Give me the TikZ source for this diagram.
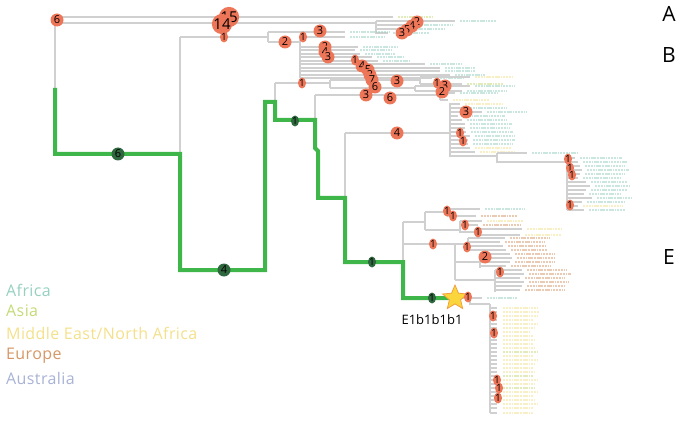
\documentclass[tikz,border=0pt]{standalone}
\usepackage{fontspec}
\setmainfont{Open Sans}
\newfontfamily\legendfont{Open Sans}[LetterSpace=2.5]
\usetikzlibrary{shapes.geometric,positioning}
\definecolor{treegrey}{RGB}{208,208,208}
\definecolor{lineagegreen}{RGB}{62,182,74}
\definecolor{mutred}{RGB}{238,118,88}
\definecolor{mutgreen}{RGB}{47,104,62}
\definecolor{africa}{RGB}{150,208,192}
\definecolor{asia}{RGB}{196,218,118}
\definecolor{mena}{RGB}{244,224,138}
\definecolor{europe}{RGB}{214,150,102}
\definecolor{australia}{RGB}{168,178,214}
\definecolor{staryellow}{RGB}{250,214,60}
\definecolor{starorange}{RGB}{242,160,62}
\tikzset{
  branch/.style={draw=treegrey,line width=2.6pt},
  lineage/.style={draw=lineagegreen,line width=4pt},
  tiplab/.style={line width=1.4pt,dash pattern=on 2.4pt off 0.8pt on 1.6pt off 0.8pt,draw opacity=0.5},
  mut/.style={circle,fill=mutred,inner sep=0pt,minimum size=13pt,text=black,font=\fontsize{11}{11}\selectfont},
  bigmut/.style={mut,minimum size=20pt,font=\fontsize{15}{15}\selectfont},
  onemut/.style={ellipse,fill=mutred,inner sep=0pt,minimum width=7pt,minimum height=11pt,text=black,font=\fontsize{10}{10}\selectfont},
  gmut/.style={circle,fill=mutgreen,inner sep=0pt,minimum size=13pt,text=black,font=\fontsize{11}{11}\selectfont},
  gone/.style={onemut,fill=mutgreen},
  legend/.style={anchor=west,inner sep=0pt,font=\legendfont\fontsize{16}{16}\selectfont},
  cladelab/.style={inner sep=0pt,font=\fontsize{21}{21}\selectfont}
}

\begin{document}
\begin{tikzpicture}[x=1pt,y=-1pt]
  \useasboundingbox (0,0) rectangle (685,422);
  % nodes on the lineage
  \coordinate (root) at (55,20);
  \coordinate (lin0) at (55,88);
  \coordinate (n180) at (180,154);
  \coordinate (n265) at (265,270);
  \coordinate (n275) at (275,102);
  \coordinate (n315) at (315,120);
  \coordinate (n318) at (318,198);
  \coordinate (n345) at (345,262);
  \coordinate (n403) at (403,298);
  \coordinate (starpos) at (455,298);

  % grey backbone
  \draw[branch] (root) -- (lin0);
  \draw[branch] (55,17) -- (393,17);
  \draw[branch] (55,23) -- (376,23);
  \draw[branch] (376,21) -- (376,34);
  \draw[branch] (180,37) -- (n180);
  \draw[branch] (180,37) -- (268,37);
  \draw[branch] (268,32) -- (268,42);
  \draw[branch] (268,42) -- (300,42);
  \draw[branch] (300,37) -- (300,78);
  \draw[branch] (275,83) -- (n275);
  \draw[branch] (275,83) -- (330,83);
  \draw[branch] (330,80) -- (330,88);
  \draw[branch] (330,80) -- (420,80);
  \draw[branch] (420,77) -- (420,84);
  \draw[branch] (330,88) -- (415,88);
  \draw[branch] (415,86) -- (415,91);
  \draw[branch] (315,95) -- (n315);
  \draw[branch] (315,95) -- (440,95);
  \draw[branch] (440,93) -- (440,100);
  \draw[branch] (345,133) -- (345,198);
  \draw[branch] (345,133) -- (450,133);
  \draw[branch] (450,103) -- (450,156) -- (497,156);
  \draw[branch] (497,153) -- (497,162) -- (567,162);
  \draw[branch] (567,158) -- (567,210);
  \draw[branch] (403,222) -- (403,262);
  \draw[branch] (403,222) -- (425,222);
  \draw[branch] (425,212) -- (425,230);
  \draw[branch] (425,212) -- (447,212);
  \draw[branch] (447,209) -- (447,216);
  \draw[branch] (425,230) -- (460,230);
  \draw[branch] (460,221) -- (460,232) -- (475,232);
  \draw[branch] (475,229) -- (475,235);
  \draw[branch] (403,244) -- (455,244);
  \draw[branch] (455,244) -- (455,280);
  \draw[branch] (455,244) -- (468,244);
  \draw[branch] (468,238) -- (468,250);
  \draw[branch] (455,262) -- (480,262);
  \draw[branch] (480,254) -- (480,268);
  \draw[branch] (455,280) -- (495,280);
  \draw[branch] (495,270) -- (495,292);
  \draw[branch] (starpos) -- (470,298) -- (470,304) -- (490,304);
  \draw[branch] (490,304) -- (490,413);

  % tips with their labels
  \foreach \xa/\yy/\xb/\cc/\ww in {
      55/17/393/asia/34, 376/21/455/africa/36, 376/25/408/africa/40,
      376/29/402/africa/38, 376/33/388/africa/36,
      268/32/345/africa/40, 300/37/345/africa/34,
      300/47/358/africa/34, 300/50/355/africa/32, 300/54/360/africa/30,
      300/57/372/africa/28, 300/61/378/africa/26, 300/64/425/africa/32,
      300/68/440/africa/30, 300/71/440/africa/30, 300/75/450/africa/30,
      300/78/432/africa/26,
      420/77/470/mena/38, 420/84/462/asia/36,
      415/86/470/africa/40, 415/91/462/africa/40,
      440/93/455/africa/38, 440/100/448/mena/36,
      450/104/460/mena/38, 450/108/462/africa/40, 450/112/482/africa/40,
      450/116/458/africa/42, 450/120/462/africa/40, 450/124/465/africa/42,
      450/128/465/africa/40, 450/132/466/africa/42, 450/136/470/africa/40,
      450/140/468/africa/42, 450/144/468/africa/40, 450/148/470/mena/36,
      450/152/475/mena/34,
      497/153/527/africa/46,
      567/158/575/africa/42, 567/162/578/africa/44, 567/166/580/africa/40,
      567/170/582/africa/42, 567/174/580/africa/40, 567/178/578/africa/38,
      567/182/586/africa/36, 567/186/590/africa/34, 567/190/586/africa/36,
      567/194/584/africa/32, 567/198/592/africa/34, 567/202/582/africa/38,
      567/206/578/mena/40, 567/210/584/africa/36,
      447/209/480/africa/40, 447/216/476/europe/36,
      460/221/482/mena/36, 460/225/478/europe/38,
      475/229/522/mena/34, 475/235/520/mena/36,
      468/238/505/europe/40, 468/242/500/europe/40, 468/246/503/europe/38,
      468/250/506/europe/36,
      480/254/510/europe/40, 480/258/512/europe/38, 480/262/510/europe/40,
      480/266/506/europe/40,
      495/270/522/europe/40, 495/274/524/europe/42, 495/278/520/europe/40,
      495/282/524/europe/40, 495/286/522/europe/38, 495/290/520/europe/40,
      470/298/482/africa/30}
    {\draw[branch] (\xa,\yy) -- (\xb,\yy);
     \draw[tiplab,draw=\cc] (\xb+5,\yy) -- ++(\ww,0);}
  \foreach \yy/\cc/\ww in {308/mena/34, 312/mena/36, 316/mena/34, 320/mena/30,
      324/mena/34, 328/mena/32, 332/mena/28, 336/mena/30, 340/mena/32,
      344/mena/30, 348/mena/32, 352/asia/34, 356/mena/30, 360/mena/34,
      364/mena/32, 368/mena/30, 372/mena/32, 376/asia/30, 380/mena/34,
      384/mena/32, 388/asia/32, 392/mena/34, 396/mena/30, 400/mena/32,
      404/mena/34, 408/mena/30, 413/mena/30}
    {\draw[branch] (490,\yy) -- (497,\yy);
     \draw[tiplab,draw=\cc] (503,\yy) -- ++(\ww,0);}

  % lineage leading to E1b1b1b1
  \draw[lineage] (lin0) -- (55,154) -- (n180) -- (180,270) -- (n265)
    -- (265,102) -- (n275) -- (275,120) -- (n315) -- (315,148)
    -- (318,151) -- (n318) -- (345,198) -- (n345) -- (403,262)
    -- (n403) -- (starpos);
  \node[star,star points=5,star point ratio=2.2,fill=staryellow,draw=starorange,
    line width=0.8pt,minimum size=26pt,inner sep=0pt] (carrier) at (starpos) {};

  % mutation counts
  \node[bigmut] (m15) at (229,17) {15};
  \node[bigmut] (m14) at (222,24) {14};
  \foreach \x/\y/\n [count=\i] in {57/20/6, 320/31/3, 285/42/2, 325/47/2,
      325/52/4, 328/57/3, 417/22/2, 412/26/4, 407/30/5, 402/33/3,
      362/66/4, 368/70/5, 370/75/2, 372/80/7, 375/87/6, 366/95/3,
      397/81/3, 390/98/6, 445/86/3, 442/92/2, 397/133/4, 466/112/3,
      485/257/2}
    \node[mut] (m\i) at (\x,\y) {\n};
  \foreach \x/\y [count=\i] in {224/37, 303/37, 302/83, 355/60, 437/83,
      460/133, 463/141, 568/159, 570/168, 572/175, 570/205, 447/211,
      453/216, 465/225, 478/232, 433/244, 467/247, 500/272, 468/297,
      493/316, 494/333, 497/380, 499/388, 498/398}
    \node[onemut] (s\i) at (\x,\y) {1};
  \node[gmut] (g6) at (118,154) {6};
  \node[gmut] (g4) at (224,270) {4};
  \node[gone] (g1a) at (295,121) {1};
  \node[gone] (g1b) at (372,262) {1};
  \node[gone] (g1c) at (432,298) {1};

  \node[font=\fontsize{13}{13}\selectfont] (hap) at (432,320) {E1b1b1b1};
  \node[cladelab] (cA) at (669,14) {A};
  \node[cladelab] (cB) at (669,55) {B};
  \node[cladelab] (cE) at (669,257) {E};

  % legend
  \node[legend,text=africa] (lafr) at (6,290) {Africa};
  \node[legend,text=asia] (lasi) at (6,311) {Asia};
  \node[legend,text=mena] (lmen) at (6,333) {Middle East/North Africa};
  \node[legend,text=europe] (leur) at (6,356) {Europe};
  \node[legend,text=australia] (laus) at (6,378) {Australia};
\end{tikzpicture}
\end{document}
